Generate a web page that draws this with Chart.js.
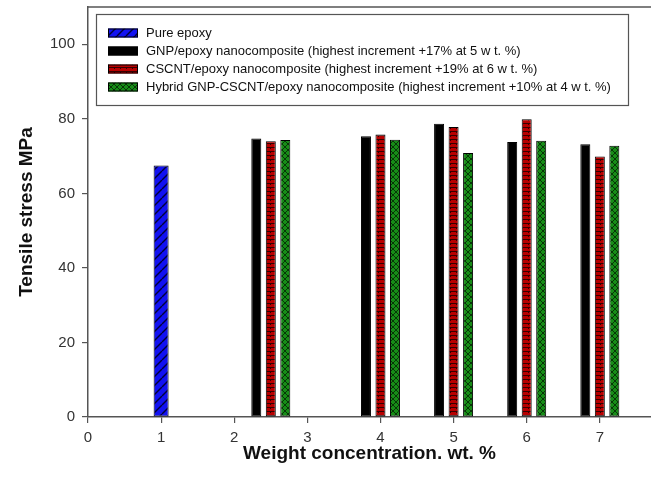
<!DOCTYPE html>
<html lang="en">
<head>
<meta charset="UTF-8">
<title>Tensile stress vs weight concentration</title>
<script src="https://cdn.jsdelivr.net/npm/chart.js"></script>
<style>
  body { margin: 0; background: #fff; }
  #wrap { width: 651px; height: 488px; }
</style>
</head>
<body>
<div id="wrap"><canvas id="stressChart" width="651" height="488"></canvas></div>
<script>
// tensile stress (MPa) per filler loading (wt. %)
var pureX = [1];
var pureStress = [67.5];
var groupX = [2.5, 4, 5, 6, 7];
var gnpStress = [74.7, 75.3, 78.7, 73.8, 73.2];
var cscntStress = [74.0, 75.8, 77.8, 79.9, 69.9];
var hybridStress = [74.3, 74.4, 70.8, 74.1, 72.8];
var seriesLabels = [
  'Pure epoxy',
  'GNP/epoxy nanocomposite (highest increment +17% at 5 w t. %)',
  'CSCNT/epoxy nanocomposite (highest increment +19% at 6 w t. %)',
  'Hybrid GNP-CSCNT/epoxy nanocomposite (highest increment +10% at 4 w t. %)'
];
var xRange = [0, 7.7];
var yRange = [0, 110];

var FONT = 'Arial, "Liberation Sans", sans-serif';

function toPoints(xs, ys) {
  return xs.map(function (x, i) { return { x: x, y: ys[i] }; });
}

// fill patterns for the bars
function makePattern(kind) {
  var c = document.createElement('canvas');
  var g = c.getContext('2d');
  if (kind === 'blue') {
    c.width = 9; c.height = 9;
    g.fillStyle = '#1212f2';
    g.fillRect(0, 0, 9, 9);
    g.strokeStyle = '#00003a';
    g.lineWidth = 1.4;
    [[-9, 9], [0, 9], [9, 9]].forEach(function (o) {
      g.beginPath();
      g.moveTo(o[0], o[1]);
      g.lineTo(o[0] + 9, o[1] - 9);
      g.stroke();
    });
  } else if (kind === 'red') {
    c.width = 6; c.height = 4;
    g.fillStyle = '#b80000';
    g.fillRect(0, 0, 6, 4);
    g.fillStyle = 'rgba(30,0,0,0.85)';
    g.fillRect(0, 3, 6, 1);
    g.fillRect(0, 0, 1, 1);
  } else if (kind === 'green') {
    c.width = 6; c.height = 6;
    g.fillStyle = '#178c17';
    g.fillRect(0, 0, 6, 6);
    g.strokeStyle = 'rgba(5,45,5,0.9)';
    g.lineWidth = 1;
    g.beginPath();
    g.moveTo(0, 0); g.lineTo(6, 6);
    g.moveTo(6, 0); g.lineTo(0, 6);
    g.stroke();
  }
  return g.createPattern(c, 'repeat');
}

var bluePat = makePattern('blue');
var redPat = makePattern('red');
var greenPat = makePattern('green');

// framed legend box inside the plot, plus the top frame line
var boxLegend = {
  id: 'boxLegend',
  afterDraw: function (chart) {
    var ctx = chart.ctx;
    var area = chart.chartArea;
    ctx.save();
    ctx.strokeStyle = '#555';
    ctx.lineWidth = 1.5;
    ctx.beginPath();
    ctx.moveTo(area.left, area.top);
    ctx.lineTo(chart.width, area.top);
    ctx.stroke();

    var bx = 96, by = 14, bw = 532, bh = 91;
    ctx.lineWidth = 1.2;
    ctx.strokeStyle = '#555';
    ctx.strokeRect(bx + 0.5, by + 0.5, bw, bh);

    ctx.font = '13px ' + FONT;
    ctx.textBaseline = 'middle';
    chart.data.datasets.forEach(function (ds, i) {
      var cy = 33 + i * 18;
      ctx.fillStyle = ds.backgroundColor;
      ctx.fillRect(108, cy - 4.5, 30, 9);
      ctx.lineWidth = 1;
      ctx.strokeStyle = '#000';
      ctx.strokeRect(108.5, cy - 4, 29, 8);
      ctx.fillStyle = '#111';
      ctx.fillText(ds.label, 146, cy + 0.5);
    });
    ctx.restore();
  }
};

var barBase = {
  borderColor: '#000',
  borderWidth: 1,
  borderSkipped: false,
  categoryPercentage: 0.595,
  barPercentage: 0.7,
  maxBarThickness: 10
};

new Chart(document.getElementById('stressChart'), {
  type: 'bar',
  data: {
    datasets: [
      Object.assign({}, barBase, {
        label: seriesLabels[0],
        data: toPoints(pureX, pureStress),
        backgroundColor: bluePat,
        grouped: false,
        maxBarThickness: 15
      }),
      Object.assign({}, barBase, {
        label: seriesLabels[1],
        data: toPoints(groupX, gnpStress),
        backgroundColor: '#000'
      }),
      Object.assign({}, barBase, {
        label: seriesLabels[2],
        data: toPoints(groupX, cscntStress),
        backgroundColor: redPat
      }),
      Object.assign({}, barBase, {
        label: seriesLabels[3],
        data: toPoints(groupX, hybridStress),
        backgroundColor: greenPat
      })
    ]
  },
  options: {
    responsive: false,
    animation: false,
    devicePixelRatio: 1,
    layout: { padding: { top: 7, right: 0, left: 0, bottom: 0 } },
    plugins: {
      legend: { display: false },
      tooltip: { enabled: false }
    },
    scales: {
      x: {
        type: 'linear',
        min: xRange[0],
        max: xRange[1],
        offset: false,
        grid: { offset: false, drawOnChartArea: false, tickLength: 6, color: '#555', lineWidth: 1.2 },
        border: { color: '#555', width: 1.5 },
        ticks: { stepSize: 1, includeBounds: false, color: '#333', padding: 6, maxRotation: 0,
                 font: { family: FONT, size: 15 } },
        title: { display: true, text: 'Weight concentration. wt. %', color: '#111',
                 font: { family: FONT, size: 19, weight: 'bold' }, padding: { bottom: 23, top: 0 } },
        afterFit: function (s) { s.height = 71; s.paddingLeft = 0; s.paddingRight = 0; }
      },
      y: {
        min: yRange[0],
        max: yRange[1],
        grid: { drawOnChartArea: false, tickLength: 6, color: '#555', lineWidth: 1.2 },
        border: { color: '#555', width: 1.5 },
        ticks: { stepSize: 20, includeBounds: false, color: '#333', padding: 7,
                 font: { family: FONT, size: 15 } },
        title: { display: true, text: 'Tensile stress MPa', color: '#111',
                 font: { family: FONT, size: 19, weight: 'bold' }, padding: { top: 15, bottom: 0 } },
        afterFit: function (s) { s.width = 88; s.paddingTop = 0; s.paddingBottom = 0; }
      }
    }
  },
  plugins: [boxLegend]
});
</script>
</body>
</html>
